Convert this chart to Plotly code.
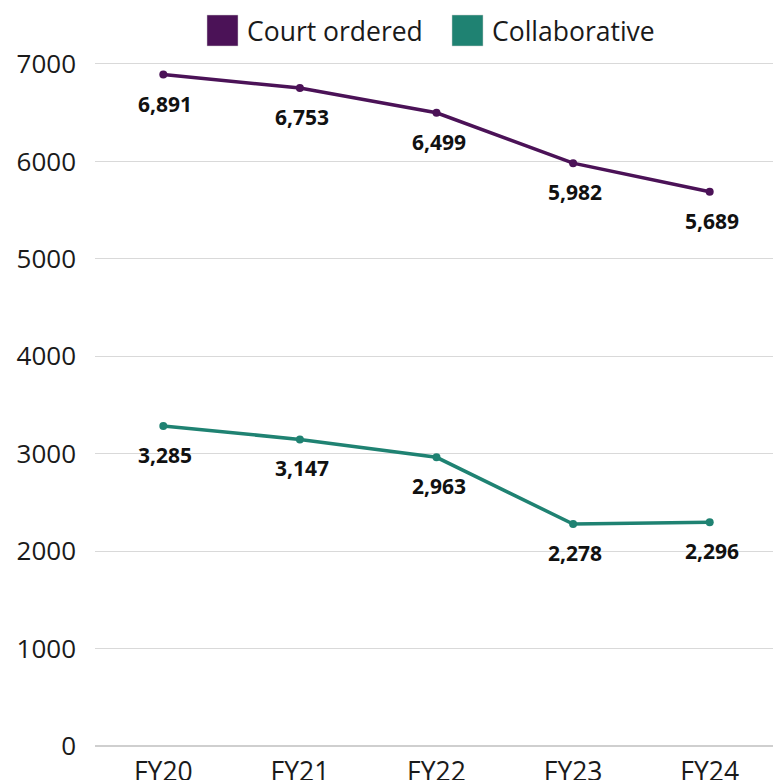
import plotly.graph_objects as go

years = ["FY20", "FY21", "FY22", "FY23", "FY24"]
court_ordered = [6891, 6753, 6499, 5982, 5689]
collaborative = [3285, 3147, 2963, 2278, 2296]
series_names = ["Court ordered", "Collaborative"]
colors = ["#4b1257", "#1f8272"]

OFF = 8  # page body margin
W, H = 773, 772
L, R, T, B = 87, 3, 36, 34
pw, ph = W - L - R, H - T - B

fig = go.Figure()
for name, vals, col in zip(series_names, [court_ordered, collaborative], colors):
    fig.add_trace(go.Scatter(
        x=years, y=vals, name=name, mode="lines+markers",
        line=dict(color=col, width=3.5), marker=dict(color=col, size=8),
        showlegend=False, cliponaxis=False,
    ))
    for x, v in zip(years, vals):
        fig.add_annotation(x=x, y=v, text=f"<b>{v:,}</b>", showarrow=False,
                           xanchor="center", yanchor="middle", yshift=-29, xshift=2,
                           font=dict(family="Open Sans", size=21, color="#111111"))

# custom legend (squares + labels), positions in page pixels
def px_x(x):
    return (x - OFF - L) / pw

def px_y(y):
    return (OFF + T + ph - y) / ph

legend_items = [(207, series_names[0], colors[0]), (452, series_names[1], colors[1])]
for x0, name, col in legend_items:
    fig.add_shape(type="rect", xref="paper", yref="paper",
                  x0=px_x(x0), x1=px_x(x0 + 31), y0=px_y(46), y1=px_y(15),
                  fillcolor=col, line=dict(color="#cccccc", width=0.5))
    fig.add_annotation(xref="paper", yref="paper", x=px_x(x0 + 38), y=px_y(31),
                       text=name, showarrow=False, xanchor="left", yanchor="middle",
                       font=dict(family="Open Sans", size=26.5, color="#1a1a1a"))

fig.update_layout(
    width=W, height=H,
    margin=dict(l=L, r=R, t=T, b=B, autoexpand=False),
    paper_bgcolor="white", plot_bgcolor="white",
    font=dict(family="Open Sans", size=26, color="#1a1a1a"),
    xaxis=dict(type="category", range=[-0.5, 4.5], showgrid=False, showline=False,
               automargin=False, ticks="", ticklabelstandoff=7,
               tickfont=dict(size=26.5, color="#1a1a1a")),
    yaxis=dict(range=[0, ph / 97.43 * 1000], tickvals=[0, 1000, 2000, 3000, 4000, 5000, 6000, 7000],
               showgrid=True, gridcolor="#d9d9d9", gridwidth=1, automargin=False,
               zeroline=True, zerolinecolor="#cfcfcf", zerolinewidth=1.5,
               ticks="", ticklabelstandoff=18, tickfont=dict(size=26, color="#1a1a1a")),
)

fig.write_html("out.html")
